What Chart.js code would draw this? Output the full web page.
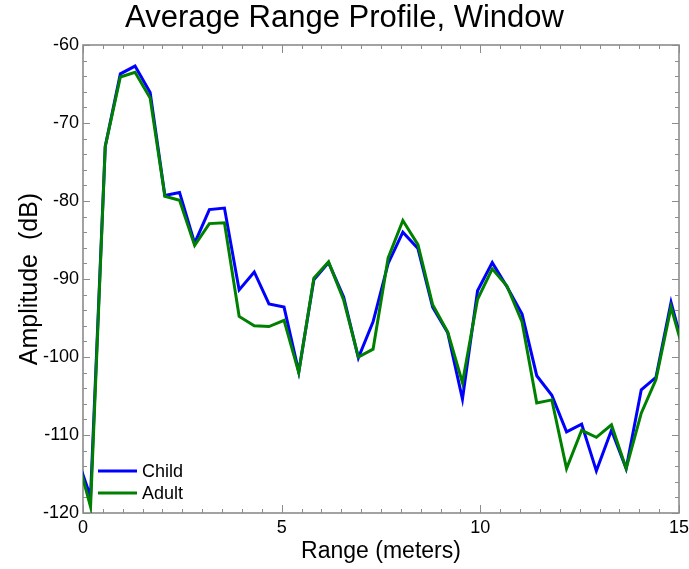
<!DOCTYPE html>
<html>
<head>
<meta charset="utf-8">
<script src="https://cdn.jsdelivr.net/npm/chart.js@4"></script>
<style>
  html, body { margin: 0; padding: 0; background: #fff; }
  #wrap { width: 689px; height: 569px; }
</style>
</head>
<body>
<div id="wrap"><canvas id="profile"></canvas></div>
<script>
/* ------------ DATA ------------ */
const rangeM = [-0.19, 0.19, 0.56, 0.94, 1.31, 1.69, 2.06, 2.43, 2.81, 3.18, 3.56, 3.93, 4.31, 4.68,
  5.06, 5.43, 5.81, 6.18, 6.56, 6.93, 7.30, 7.68, 8.05, 8.43, 8.80, 9.18, 9.55, 9.93, 10.30,
  10.67, 11.05, 11.42, 11.80, 12.17, 12.55, 12.92, 13.30, 13.67, 14.05, 14.42, 14.80, 15.17];
const child = [-112.3, -117.9, -73.0, -63.7, -62.7, -66.1, -79.3, -78.9, -85.4, -81.1, -80.9, -91.4,
  -89.1, -93.2, -93.6, -101.9, -90.1, -87.9, -92.3, -100.1, -95.5, -88.0, -84.0, -86.1, -93.6,
  -96.9, -105.4, -91.5, -87.9, -91.0, -94.5, -102.4, -104.9, -109.6, -108.6, -114.6, -109.4,
  -114.3, -104.2, -102.6, -93.0, -100.0];
const adult = [-112.0, -119.2, -73.0, -64.1, -63.5, -66.8, -79.4, -79.9, -85.7, -82.9, -82.8, -94.8,
  -96.0, -96.1, -95.3, -102.0, -89.9, -87.8, -92.7, -100.0, -99.0, -87.3, -82.5, -85.6, -93.3,
  -96.8, -103.3, -92.6, -88.7, -90.9, -95.5, -105.9, -105.5, -114.3, -109.4, -110.3, -108.7,
  -114.3, -107.2, -102.9, -93.6, -100.3];
const seriesNames = ['Child', 'Adult'];
const xTicks = [0, 5, 10, 15];
const yTicks = [-120, -110, -100, -90, -80, -70, -60];

/* ------------ HELPERS ------------ */
const FONT = '"Liberation Sans", Arial, sans-serif';
const AXIS_GREY = '#8c8c8c';
const pts = vals => vals.map((v, i) => ({ x: rangeM[i], y: v }));

// box round the plot, ticks pointing inward on all four sides
const frame = {
  id: 'frame',
  beforeDatasetsDraw(chart) {
    const { ctx, chartArea: a, scales: { x, y } } = chart;
    ctx.save();
    ctx.strokeStyle = AXIS_GREY;
    ctx.lineWidth = 1;
    ctx.beginPath();
    for (let i = 0; i <= 30; i++) {
      const v = i / 2;
      const px = Math.round(x.getPixelForValue(v)) + 0.5;
      const len = xTicks.includes(v) ? 8 : 4;
      ctx.moveTo(px, a.bottom); ctx.lineTo(px, a.bottom - len);
      ctx.moveTo(px, a.top); ctx.lineTo(px, a.top + len);
    }
    for (let v = -120; v <= -60; v += 2) {
      const py = Math.round(y.getPixelForValue(v)) + 0.5;
      const len = yTicks.includes(v) ? 7 : 4;
      ctx.moveTo(a.left, py); ctx.lineTo(a.left + len, py);
      ctx.moveTo(a.right, py); ctx.lineTo(a.right - len, py);
    }
    ctx.stroke();
    ctx.lineWidth = 1.6;
    ctx.strokeRect(a.left, a.top, a.width, a.height);
    ctx.restore();
  }
};

// legend in the lower-left corner, in data order
const cornerLegend = {
  id: 'cornerLegend',
  afterDatasetsDraw(chart) {
    const { ctx, chartArea: a } = chart;
    ctx.save();
    ctx.font = `18px ${FONT}`;
    ctx.textBaseline = 'middle';
    ctx.fillStyle = '#000';
    chart.data.datasets.forEach((ds, i) => {
      const yy = a.bottom - 42 + i * 22;
      ctx.strokeStyle = ds.borderColor;
      ctx.lineWidth = 3;
      ctx.beginPath();
      ctx.moveTo(a.left + 15, yy); ctx.lineTo(a.left + 54, yy);
      ctx.stroke();
      ctx.fillText(ds.label, a.left + 59, yy + 1);
    });
    ctx.restore();
  }
};

/* ------------ CHART ------------ */
new Chart(document.getElementById('profile'), {
  type: 'line',
  data: {
    datasets: [
      { label: seriesNames[0], data: pts(child), borderColor: '#0000ff', order: 1 },
      { label: seriesNames[1], data: pts(adult), borderColor: '#008000', order: 0 }
    ]
  },
  options: {
    responsive: true,
    maintainAspectRatio: false,
    animation: false,
    devicePixelRatio: 1,
    layout: { padding: 0 },
    datasets: { line: { borderWidth: 3, pointRadius: 0, tension: 0, clip: 0, fill: false } },
    plugins: {
      legend: { display: false },
      tooltip: { enabled: false },
      title: {
        display: true,
        text: 'Average Range Profile, Window',
        color: '#000',
        font: { family: FONT, size: 31, weight: 'normal', lineHeight: 1.2 },
        padding: { top: 0, bottom: 7.8 }
      }
    },
    scales: {
      x: {
        type: 'linear', min: 0, max: 15,
        afterFit: s => { s.height = 56; s.paddingLeft = 0; s.paddingRight = 0; },
        grid: { display: false, drawTicks: false },
        border: { display: false },
        ticks: { stepSize: 5, padding: 4, color: '#000', maxRotation: 0, font: { family: FONT, size: 18 } },
        title: {
          display: true, text: 'Range (meters)', color: '#000',
          font: { family: FONT, size: 23 }, padding: { top: 0, bottom: 4 }
        }
      },
      y: {
        type: 'linear', min: -120, max: -60,
        afterFit: s => { s.width = 83; },
        grid: { display: false, drawTicks: false },
        border: { display: false },
        ticks: { stepSize: 10, padding: 4, color: '#000', font: { family: FONT, size: 18 } },
        title: {
          display: true, text: 'Amplitude  (dB)', color: '#000',
          font: { family: FONT, size: 25 }, padding: { top: 15, bottom: 0 }
        }
      },
      // empty right-hand strip so the plot stops short of the canvas edge
      gutter: {
        type: 'linear', position: 'right', min: -120, max: -60,
        afterFit: s => { s.width = 10; },
        grid: { display: false, drawTicks: false },
        border: { display: false },
        ticks: { display: false }
      }
    }
  },
  plugins: [frame, cornerLegend]
});
</script>
</body>
</html>
